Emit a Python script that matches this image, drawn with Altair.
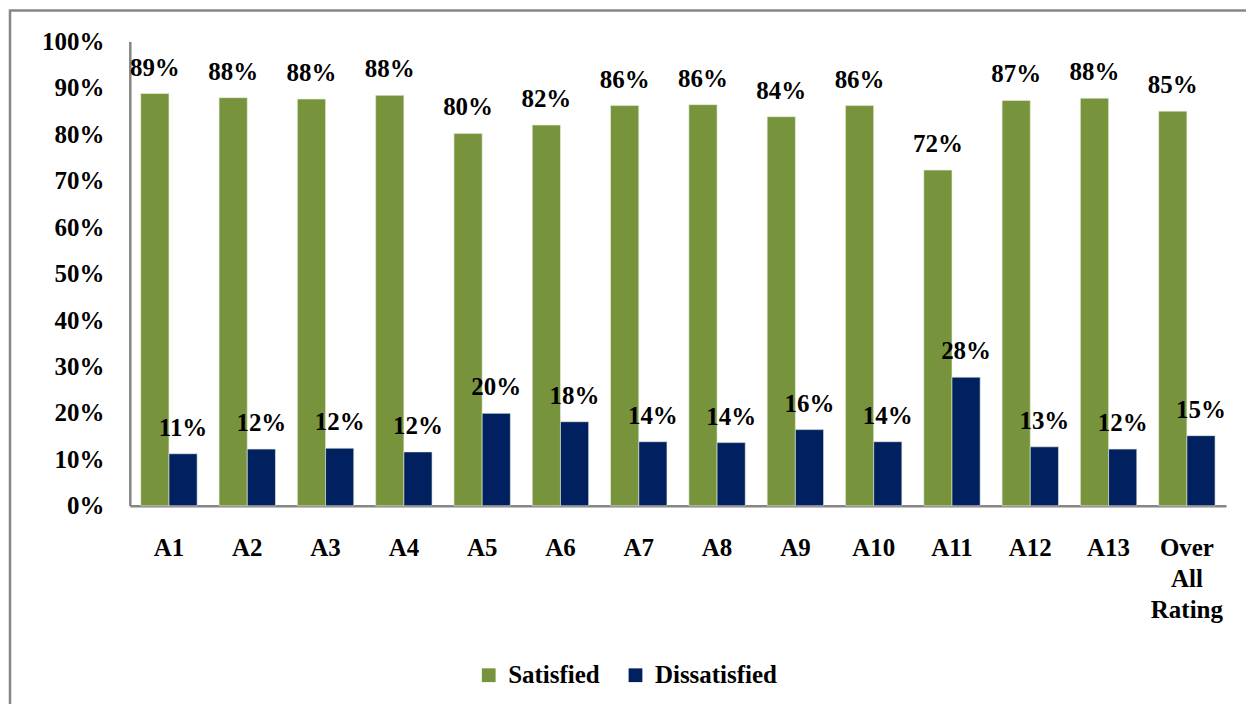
import altair as alt
import pandas as pd

categories = ["A1", "A2", "A3", "A4", "A5", "A6", "A7", "A8", "A9", "A10",
              "A11", "A12", "A13", "Over All Rating"]
satisfied = [0.888, 0.879, 0.876, 0.884, 0.802, 0.820, 0.862, 0.864, 0.838, 0.862,
             0.723, 0.873, 0.878, 0.850]
dissatisfied = [0.112, 0.122, 0.124, 0.116, 0.199, 0.181, 0.138, 0.136, 0.164, 0.138,
                0.277, 0.127, 0.122, 0.151]
series = ["Satisfied", "Dissatisfied"]
colors = ["#77933C", "#002060"]

rows = []
for c, s, d in zip(categories, satisfied, dissatisfied):
    rows.append({"Category": c, "Series": "Satisfied", "Value": s})
    rows.append({"Category": c, "Series": "Dissatisfied", "Value": d})
df = pd.DataFrame(rows)

FONT = "'Liberation Serif', 'Times New Roman', 'DejaVu Serif', serif"

x_enc = alt.X(
    "Category:N",
    sort=categories,
    scale=alt.Scale(paddingInner=0.28, paddingOuter=0.14),
    axis=alt.Axis(
        title=None, ticks=False, domainColor="#868686", domainWidth=2.5,
        labelFont=FONT, labelFontSize=25, labelFontWeight="bold", labelColor="#000000",
        labelAngle=0, labelPadding=30, labelBaseline="top", labelLineHeight=31,
        labelExpr="split(datum.label, ' ')",
    ),
)
y_enc = alt.Y(
    "Value:Q",
    scale=alt.Scale(domain=[0, 1], nice=False),
    axis=alt.Axis(
        title=None, grid=False, ticks=False, values=[i / 10 for i in range(11)],
        format=".0%", domainColor="#868686", domainWidth=2.5,
        labelFont=FONT, labelFontSize=25, labelFontWeight="bold", labelColor="#000000",
        labelPadding=26,
    ),
)
xoff = alt.XOffset("Series:N", sort=series, scale=alt.Scale(domain=series))

bars = alt.Chart(df).mark_bar(stroke="#e8eedc", strokeWidth=0.6).encode(
    x=x_enc,
    y=y_enc,
    xOffset=xoff,
    color=alt.Color(
        "Series:N",
        scale=alt.Scale(domain=series, range=colors),
        legend=alt.Legend(
            title=None, orient="none", direction="horizontal",
            legendX=347, legendY=622, padding=0,
            symbolType="square", symbolSize=190, symbolStrokeWidth=0,
            labelFont=FONT, labelFontSize=25, labelFontWeight="bold",
            labelColor="#000000", labelOffset=7, columnPadding=23,
        ),
    ),
)

labels = alt.Chart(df).mark_text(
    font=FONT, fontSize=25, fontWeight="bold", color="#000000",
    baseline="alphabetic", dy=-18,
).encode(
    x=alt.X("Category:N", sort=categories),
    y="Value:Q",
    xOffset=xoff,
    text=alt.Text("Value:Q", format=".0%"),
)

frame = alt.Chart(pd.DataFrame({"k": [0]})).mark_rect(
    fill=None, stroke="#868686", strokeWidth=2.5
).encode(
    x=alt.value(-120), x2=alt.value(1300), y=alt.value(-31), y2=alt.value(900)
)

chart = alt.layer(frame, bars, labels).properties(
    width=1098,
    height=465,
    autosize="none",
    padding={"left": 122, "top": 33, "right": 20, "bottom": 198},
).configure_view(stroke=None)

chart.save("out.html", embed_options={"renderer": "svg", "actions": False})
